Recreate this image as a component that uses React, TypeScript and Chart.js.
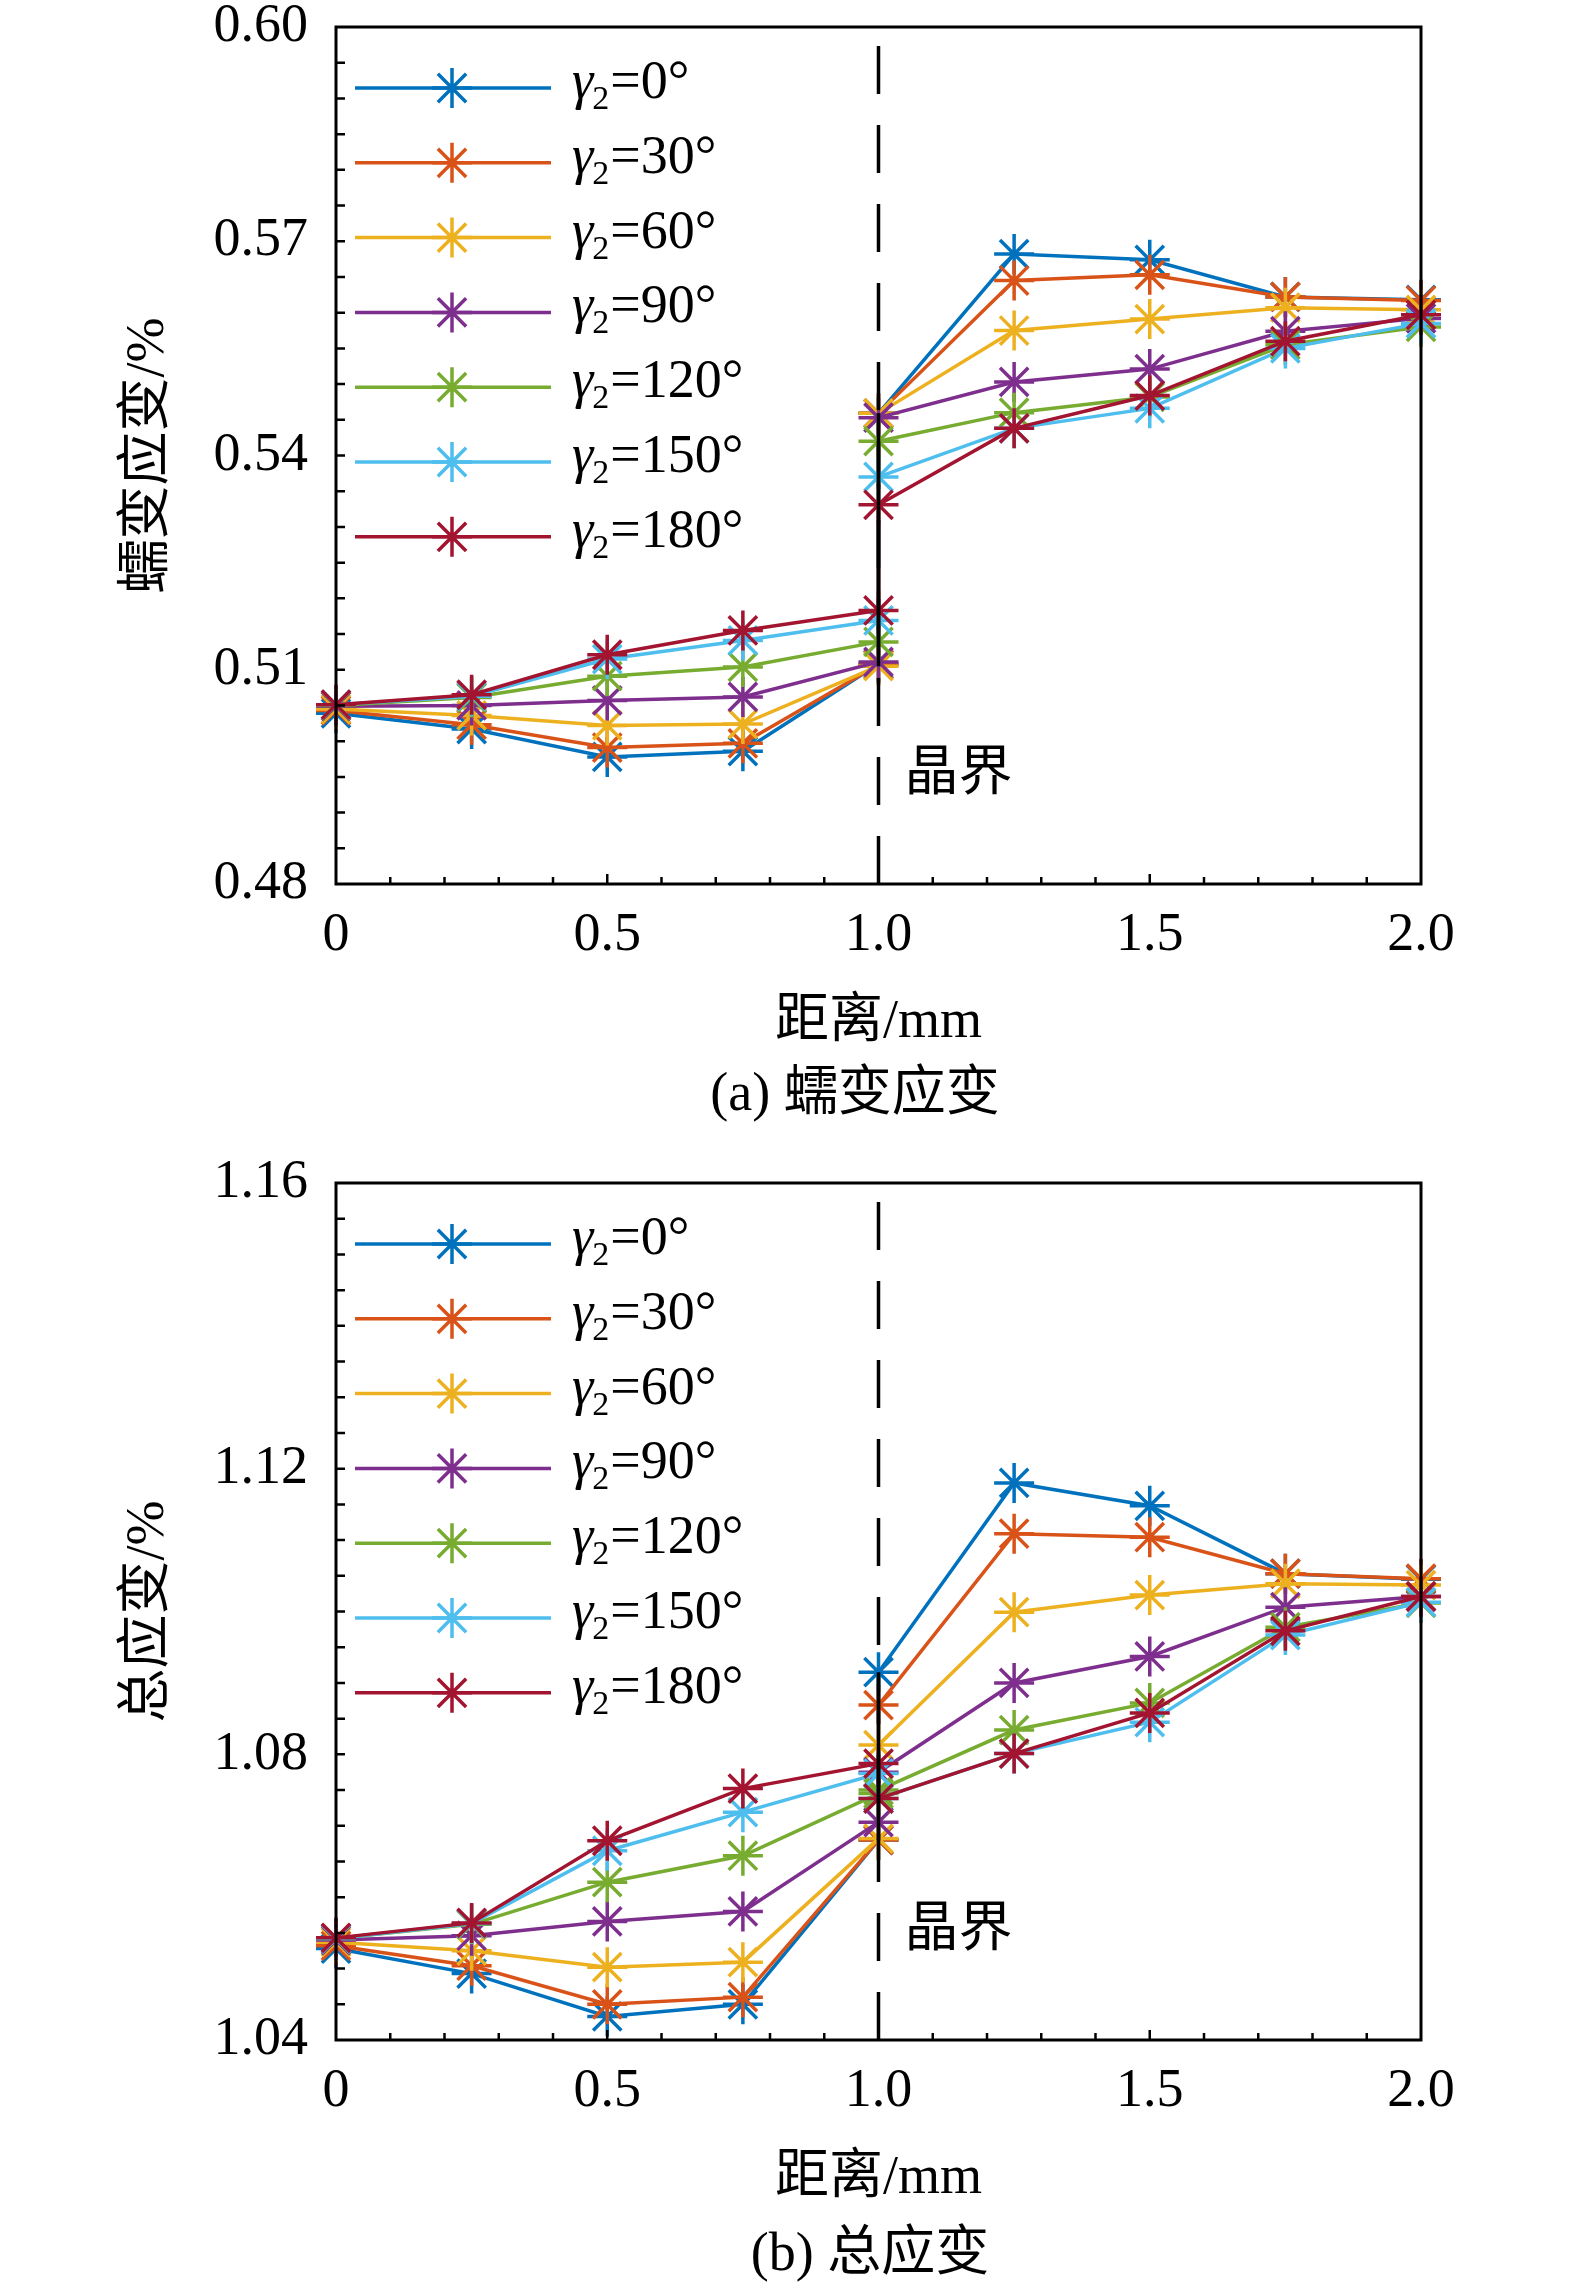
import { useEffect, useRef } from "react"
import { Chart, registerables, type Plugin } from "chart.js"

Chart.register(...registerables)

// distance along the specimen (mm); 1.0 appears twice: left / right of the grain boundary
const distance = [0, 0.25, 0.5, 0.75, 1.0, 1.0, 1.25, 1.5, 1.75, 2.0]
const angles = ["0", "30", "60", "90", "120", "150", "180"]
const colors = ["#0072BD", "#D95319", "#EDB120", "#7E2F8E", "#77AC30", "#4DBEEE", "#A2142F"]

// (a) creep strain, %
const creep0 = [0.5039, 0.5017, 0.4978, 0.4986, 0.5108, 0.5459, 0.5682, 0.5674, 0.5622, 0.5618]
const creep30 = [0.5043, 0.5023, 0.4991, 0.4997, 0.5107, 0.5459, 0.5645, 0.5653, 0.5622, 0.5617]
const creep60 = [0.5045, 0.5036, 0.5022, 0.5024, 0.5105, 0.5459, 0.5575, 0.5591, 0.5607, 0.5604]
const creep90 = [0.5049, 0.505, 0.5057, 0.5062, 0.5111, 0.5453, 0.5503, 0.5521, 0.5574, 0.5592]
const creep120 = [0.505, 0.5061, 0.5091, 0.5104, 0.5139, 0.542, 0.546, 0.5482, 0.5555, 0.558]
const creep150 = [0.5051, 0.5063, 0.5115, 0.5141, 0.5169, 0.537, 0.5438, 0.5466, 0.555, 0.5585]
const creep180 = [0.5051, 0.5065, 0.5121, 0.5155, 0.5183, 0.5331, 0.5438, 0.5484, 0.556, 0.5597]

// (b) total strain, %
const total0 = [1.0528, 1.0493, 1.0433, 1.045, 1.068, 1.0915, 1.118, 1.1148, 1.1053, 1.1045]
const total30 = [1.0532, 1.0504, 1.045, 1.046, 1.068, 1.0869, 1.1109, 1.1104, 1.1053, 1.1046]
const total60 = [1.0537, 1.0525, 1.0502, 1.0509, 1.0682, 1.0813, 1.0999, 1.1023, 1.1039, 1.1037]
const total90 = [1.054, 1.0546, 1.0566, 1.058, 1.0705, 1.0775, 1.09, 1.0937, 1.1006, 1.1021]
const total120 = [1.0542, 1.0562, 1.0621, 1.0658, 1.0745, 1.075, 1.0834, 1.0872, 1.0978, 1.1012]
const total150 = [1.0542, 1.0563, 1.0665, 1.0719, 1.0773, 1.0738, 1.0801, 1.0845, 1.0967, 1.1013]
const total180 = [1.0543, 1.0564, 1.0679, 1.0752, 1.0787, 1.0738, 1.0801, 1.0858, 1.0973, 1.1021]

const xTicks = [0, 0.5, 1.0, 1.5, 2.0]
const creepTicks = [0.48, 0.51, 0.54, 0.57, 0.6]
const totalTicks = [1.04, 1.08, 1.12, 1.16]
const boundaryX = 1.0
const xMinorStep = 0.1
const yMinorStep = 0.005

const creepSeries = [creep0, creep30, creep60, creep90, creep120, creep150, creep180]
const totalSeries = [total0, total30, total60, total90, total120, total150, total180]

const FONT = "'Liberation Serif', 'Noto Sans CJK SC', serif"
const W = 1575
const H = 1147
const PLOT_LEFT = 336
const PLOT_RIGHT = 1421

function drawStar(ctx: CanvasRenderingContext2D, x: number, y: number, r: number) {
  ctx.beginPath()
  for (let k = 0; k < 4; k++) {
    const a = (k * Math.PI) / 4
    ctx.moveTo(x - r * Math.cos(a), y - r * Math.sin(a))
    ctx.lineTo(x + r * Math.cos(a), y + r * Math.sin(a))
  }
  ctx.stroke()
}

function decorPlugin(series: number[][]): Plugin<"line"> {
  return {
    id: "decor",
    afterDatasetsDraw(chart) {
      const { ctx, chartArea: a } = chart
      const xs = chart.scales.x
      const ys = chart.scales.y
      ctx.save()
      ctx.strokeStyle = "#000"

      // grain boundary
      const bx = xs.getPixelForValue(boundaryX)
      ctx.lineWidth = 3.5
      ctx.setLineDash([48, 31])
      ctx.beginPath()
      ctx.moveTo(bx, a.bottom)
      ctx.lineTo(bx, a.top)
      ctx.stroke()
      ctx.setLineDash([])
      const jump = series.flatMap((s) => [s[4], s[5]])
      ctx.beginPath()
      ctx.moveTo(bx, ys.getPixelForValue(Math.min(...jump)))
      ctx.lineTo(bx, ys.getPixelForValue(Math.max(...jump)))
      ctx.stroke()

      // frame
      ctx.lineWidth = 3
      ctx.strokeRect(a.left, a.top, a.right - a.left, a.bottom - a.top)

      // inward ticks
      ctx.lineWidth = 2.5
      ctx.beginPath()
      const ny = Math.round((ys.max - ys.min) / yMinorStep)
      for (let k = 1; k < ny; k++) {
        const py = ys.getPixelForValue(ys.min + k * yMinorStep)
        ctx.moveTo(a.left, py)
        ctx.lineTo(a.left + 9, py)
      }
      const nx = Math.round((xs.max - xs.min) / xMinorStep)
      for (let k = 1; k < nx; k++) {
        const px = xs.getPixelForValue(xs.min + k * xMinorStep)
        const major = k % 5 === 0
        ctx.moveTo(px, a.bottom)
        ctx.lineTo(px, a.bottom - (major ? 10 : 7))
      }
      ctx.stroke()
      ctx.restore()
    },
    afterDraw(chart) {
      const { ctx, chartArea: a } = chart
      const xs = chart.scales.x
      ctx.save()
      ctx.fillStyle = "#000"
      ctx.font = `54px ${FONT}`
      ctx.textAlign = "left"
      ctx.textBaseline = "middle"
      ctx.fillText("晶界", xs.getPixelForValue(boundaryX) + 26, a.bottom - 108)

      // legend
      for (let i = 0; i < series.length; i++) {
        const ly = a.top + 61 + i * 74.8
        ctx.strokeStyle = colors[i]
        ctx.lineWidth = 3.5
        ctx.beginPath()
        ctx.moveTo(a.left + 19, ly)
        ctx.lineTo(a.left + 215, ly)
        ctx.stroke()
        drawStar(ctx, a.left + 116, ly, 20)

        let tx = a.left + 236
        ctx.fillStyle = "#000"
        ctx.textBaseline = "alphabetic"
        ctx.font = `italic 54px ${FONT}`
        ctx.fillText("γ", tx, ly + 10)
        tx += ctx.measureText("γ").width - 1
        ctx.font = `34px ${FONT}`
        ctx.fillText("2", tx, ly + 21)
        tx += ctx.measureText("2").width + 1
        ctx.font = `54px ${FONT}`
        ctx.fillText(`=${angles[i]}°`, tx, ly + 10)
      }
      ctx.restore()
    },
  }
}

interface StrainChartProps {
  series: number[][]
  yTicks: number[]
  yTitle: string
  plotTop: number
  plotBottom: number
}

function StrainChart({ series, yTicks, yTitle, plotTop, plotBottom }: StrainChartProps) {
  const canvasRef = useRef<HTMLCanvasElement>(null)

  useEffect(() => {
    if (!canvasRef.current) return
    const font = { family: FONT, size: 54, lineHeight: 1.2 }
    const xHeight = H - plotBottom

    const chart = new Chart(canvasRef.current, {
      type: "line",
      data: {
        datasets: series.map((s, i) => ({
          label: `γ2=${angles[i]}°`,
          data: s.map((v, j) => ({ x: distance[j], y: v })),
          borderColor: colors[i],
          backgroundColor: colors[i],
          borderWidth: 3.5,
          pointStyle: "star",
          pointRadius: 20,
          pointBorderWidth: 3.5,
          pointBorderColor: colors[i],
          tension: 0,
          clip: false,
          order: series.length - i,
        })),
      },
      options: {
        animation: false,
        responsive: false,
        events: [],
        layout: { padding: { top: plotTop, right: W - PLOT_RIGHT, left: 0, bottom: 0 } },
        plugins: { legend: { display: false }, tooltip: { enabled: false } },
        scales: {
          x: {
            type: "linear",
            min: 0,
            max: 2,
            afterBuildTicks: (s) => {
              s.ticks = xTicks.map((v) => ({ value: v }))
            },
            afterFit: (s) => {
              s.height = xHeight
              s.paddingLeft = 0
              s.paddingRight = 0
            },
            ticks: {
              callback: (v) => (Number(v) === 0 ? "0" : Number(v).toFixed(1)),
              font,
              color: "#000",
              padding: 19,
              maxRotation: 0,
            },
            grid: { display: false, drawTicks: false },
            border: { display: false },
            title: {
              display: true,
              text: "距离/mm",
              font,
              color: "#000",
              padding: { top: 0, bottom: xHeight - 139 - 32.4 },
            },
          },
          y: {
            type: "linear",
            min: yTicks[0],
            max: yTicks[yTicks.length - 1],
            afterBuildTicks: (s) => {
              s.ticks = yTicks.map((v) => ({ value: v }))
            },
            afterFit: (s) => {
              s.width = PLOT_LEFT
              s.paddingTop = 0
              s.paddingBottom = 0
            },
            ticks: {
              callback: (v) => Number(v).toFixed(2),
              font,
              color: "#000",
              padding: 28,
            },
            grid: { display: false, drawTicks: false },
            border: { display: false },
            title: {
              display: true,
              text: yTitle,
              font,
              color: "#000",
              padding: { top: 149 - 32.4, bottom: 0 },
            },
          },
        },
      },
      plugins: [decorPlugin(series)],
    })

    return () => {
      chart.destroy()
    }
  }, [series, yTicks, yTitle, plotTop, plotBottom])

  return <canvas ref={canvasRef} width={W} height={H} style={{ display: "block", width: W, height: H }} />
}

const captionStyle = {
  position: "absolute" as const,
  transform: "translate(-50%, -50%)",
  whiteSpace: "nowrap" as const,
  fontFamily: FONT,
  fontSize: 54,
  lineHeight: 1,
  color: "#000",
}

export default function App() {
  return (
    <div style={{ position: "absolute", left: 0, top: 0, width: W, height: 2294, background: "#fff" }}>
      <div style={{ position: "absolute", left: 0, top: 0 }}>
        <StrainChart series={creepSeries} yTicks={creepTicks} yTitle="蠕变应变/%" plotTop={27} plotBottom={884} />
      </div>
      <div style={{ position: "absolute", left: 0, top: H }}>
        <StrainChart series={totalSeries} yTicks={totalTicks} yTitle="总应变/%" plotTop={36} plotBottom={893} />
      </div>
      <div style={{ ...captionStyle, left: 855, top: 1092 }}>(a) 蠕变应变</div>
      <div style={{ ...captionStyle, left: 870, top: 2252 }}>(b) 总应变</div>
    </div>
  )
}
